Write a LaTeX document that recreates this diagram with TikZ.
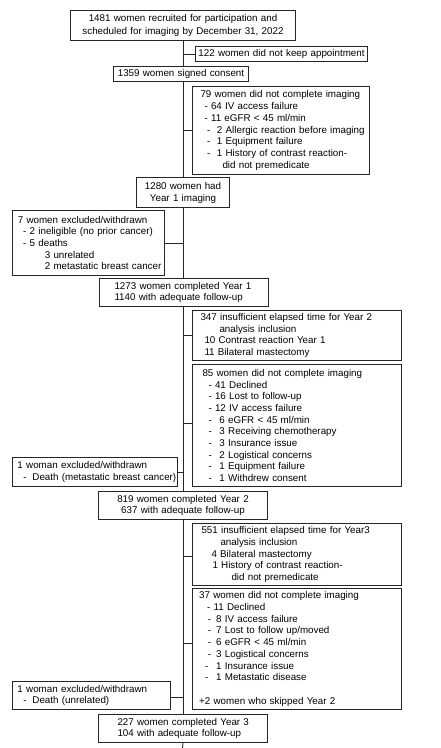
\documentclass[tikz,border=0pt]{standalone}
\usepackage{fontspec}
\setmainfont{Liberation Sans}
\newcommand\myind[1]{\hspace*{#1pt}}
\tikzset{
  box/.style={draw=black!85, line width=1pt, fill=white, inner sep=0pt,
    anchor=north west, font=\fontsize{9.8}{11.7}\selectfont, text=black},
  lbox/.style={box, align=left},
  cbox/.style={box, align=center},
  conn/.style={draw=black!85, line width=0.9pt},
}
\begin{document}
\begin{tikzpicture}[x=1pt,y=-1pt]
\useasboundingbox[fill=white] (0,0) rectangle (441,748);

% main column
\node[cbox, text width=225pt, minimum height=30pt, font=\fontsize{9.8}{12.6}\selectfont] (b1) at (70,10)
  {1481 women recruited for participation and\\scheduled for imaging by December 31, 2022};
\coordinate (sp) at (b1.south);
\node[cbox, text width=135pt, minimum height=15pt] (b1359) at (113,66) {1359 women signed consent};
\node[cbox, text width=93pt, minimum height=30pt, font=\fontsize{9.8}{12}\selectfont] (b1280) at (136,177)
  {1280 women had\\Year 1 imaging};
\node[lbox, text width=169pt, minimum height=28pt] (b1273) at (99,278)
  {\leftskip=15pt\relax 1273 women completed Year 1\\1140 with adequate follow-up\par};
\node[cbox, text width=169pt, minimum height=28pt] (b819) at (98,491)
  {819 women completed Year 2\\637 with adequate follow-up};
\node[lbox, text width=169pt, minimum height=28pt] (b227) at (98,714)
  {\leftskip=19pt\relax 227 women completed Year 3\\104 with adequate follow-up\par};
\coordinate (endpt) at (182.5,748);

% right side boxes
\node[cbox, text width=172pt, minimum height=15pt] (b122) at (195,46) {122 women did not keep appointment};
\node[lbox, text width=177pt, minimum height=88pt] (b79) at (192,86)
  {\leftskip=8pt\relax 79 women did not complete imaging\\
   \myind{4}- 64 IV access failure\\
   \myind{4}- 11 eGFR < 45 ml/min\\
   \myind{6.5}-\hspace{6.7pt}2 Allergic reaction before imaging\\
   \myind{6.5}-\hspace{6.7pt}1 Equipment failure\\
   \myind{6.5}-\hspace{6.7pt}1 History of contrast reaction-\\
   \myind{22}did not premedicate\par};
\node[lbox, text width=209pt, minimum height=50pt] (b347) at (192,310)
  {\leftskip=8pt\relax 347 insufficient elapsed time for Year 2\\
   \myind{19}analysis inclusion\\
   \myind{4}10 Contrast reaction Year 1\\
   \myind{4}11 Bilateral mastectomy\par};
\node[lbox, text width=209pt, minimum height=122pt] (b85) at (192,364)
  {\leftskip=10pt\relax 85 women did not complete imaging\\
   \myind{6}- 41 Declined\\
   \myind{6}- 16 Lost to follow-up\\
   \myind{6}- 12 IV access failure\\
   \myind{6}-\hspace{7.7pt}6 eGFR < 45 ml/min\\
   \myind{6}-\hspace{7.7pt}3 Receiving chemotherapy\\
   \myind{6}-\hspace{7.7pt}3 Insurance issue\\
   \myind{6}-\hspace{7.7pt}2 Logistical concerns\\
   \myind{6}-\hspace{7.7pt}1 Equipment failure\\
   \myind{6}-\hspace{7.7pt}1 Withdrew consent\par};
\node[lbox, text width=209pt, minimum height=62pt] (b551) at (192,523)
  {\leftskip=9pt\relax 551 insufficient elapsed time for Year3\\
   \myind{19}analysis inclusion\\
   \myind{10}4 Bilateral mastectomy\\
   \myind{11}1 History of contrast reaction-\\
   \myind{30}did not premedicate\par};
\node[lbox, text width=209pt, minimum height=121pt] (b37) at (192,588)
  {\leftskip=6.7pt\relax 37 women did not complete imaging\\
   \myind{8}- 11 Declined\\
   \myind{8.6}-\hspace{5.1pt}8 IV access failure\\
   \myind{8.6}-\hspace{5.1pt}7 Lost to follow up/moved\\
   \myind{8.6}-\hspace{5.1pt}6 eGFR < 45 ml/min\\
   \myind{8.6}-\hspace{5.1pt}3 Logistical concerns\\
   \myind{6}-\hspace{7.7pt}1 Insurance issue\\
   \myind{6}-\hspace{7.7pt}1 Metastatic disease\\[11.7pt]
   +2 women who skipped Year 2\par};

% left side boxes
\node[lbox, text width=152pt, minimum height=65pt] (b7) at (12,210)
  {\leftskip=5.3pt\relax 7 women excluded/withdrawn\\
   \myind{5.4}- 2 ineligible (no prior cancer)\\
   \myind{5.4}- 5 deaths\\
   \myind{27}3 unrelated\\
   \myind{27}2 metastatic breast cancer\par};
\node[lbox, text width=165pt, minimum height=29pt] (b1w) at (12,457)
  {\leftskip=5pt\relax 1 woman excluded/withdrawn\\
   \myind{6}-\hspace{5.7pt}Death (metastatic breast cancer)\par};
\node[lbox, text width=158pt, minimum height=28pt] (b1wu) at (12,681)
  {\leftskip=5pt\relax 1 woman excluded/withdrawn\\
   \myind{6}-\hspace{5.7pt}Death (unrelated)\par};

% spine
\draw[conn] (b1.south) -- (b1359.north -| sp);
\draw[conn] (b1359.south -| sp) -- (b1280.north -| sp);
\draw[conn] (b1280.south -| sp) -- (b1273.north -| sp);
\draw[conn] (b1273.south -| sp) -- (b819.north -| sp);
\draw[conn] (b819.south -| sp) -- (b227.north -| sp);
\draw[conn] (b227.south -| sp) -- (endpt);

% branches
\draw[conn] (b122.west) -- (b122.west -| sp);
\draw[conn] (b79.west) -- (b79.west -| sp);
\draw[conn] (b7.east) -- (b7.east -| sp);
\draw[conn] (b347.west) -- (b347.west -| sp);
\draw[conn] ([yshift=2pt]b85.west) -- ([yshift=2pt]b85.west -| sp);
\draw[conn] (b1w.east) -- (b1w.east -| sp);
\draw[conn] ([yshift=-2pt]b551.west) -- ([yshift=-2pt]b551.west -| sp);
\draw[conn] ([yshift=5.5pt]b37.west) -- ([yshift=5.5pt]b37.west -| sp);
\draw[conn] ([yshift=-2pt]b1wu.east) -- ([yshift=-2pt]b1wu.east -| sp);
\end{tikzpicture}
\end{document}
